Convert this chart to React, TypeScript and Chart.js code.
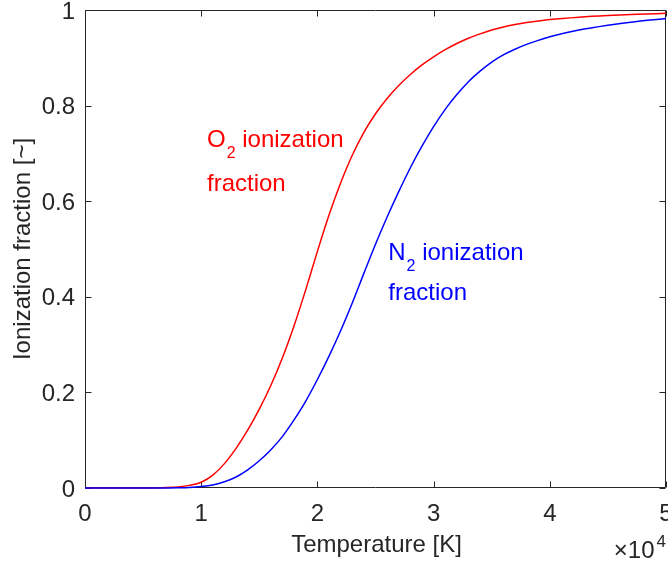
import React, { useEffect, useRef } from 'react';
import { Chart, registerables } from 'chart.js';

Chart.register(...registerables);

// Temperature samples [K]
const temperatureK = [
  0, 5000, 6000, 7000, 8000, 9000, 10000, 11000, 12000, 13000, 14000, 15000,
  16000, 17000, 18000, 19000, 20000, 21000, 22000, 23000, 24000, 25000, 26000,
  27000, 28000, 29000, 30000, 31000, 32000, 33000, 34000, 35000, 36000, 37000,
  38000, 39000, 40000, 42500, 45000, 47500, 50000,
];

// O2 ionization fraction (red)
const o2Fraction = [
  0, 0, 0.0002, 0.0008, 0.0022, 0.0055, 0.012, 0.027, 0.051, 0.083, 0.121,
  0.165, 0.215, 0.273, 0.34, 0.415, 0.495, 0.571, 0.638, 0.696, 0.744, 0.783,
  0.815, 0.842, 0.865, 0.885, 0.902, 0.917, 0.93, 0.941, 0.95, 0.958, 0.9645,
  0.9695, 0.9737, 0.977, 0.98, 0.985, 0.9885, 0.991, 0.993,
];

// N2 ionization fraction (blue)
const n2Fraction = [
  0, 0, 0, 0.0001, 0.0004, 0.0012, 0.003, 0.0065, 0.013, 0.023, 0.038, 0.057,
  0.08, 0.108, 0.143, 0.182, 0.227, 0.276, 0.329, 0.387, 0.449, 0.51, 0.567,
  0.62, 0.67, 0.715, 0.756, 0.792, 0.823, 0.85, 0.872, 0.891, 0.906, 0.918,
  0.928, 0.9365, 0.944, 0.958, 0.968, 0.976, 0.982,
];

const xTickValues = [0, 10000, 20000, 30000, 40000, 50000];
const xTickLabels = ['0', '1', '2', '3', '4', '5'];
const yTickValues = [0, 0.2, 0.4, 0.6, 0.8, 1];
const yTickLabels = ['0', '0.2', '0.4', '0.6', '0.8', '1'];

const xTitle = 'Temperature [K]';
const yTitle = 'Ionization fraction [~]';
const exponentBase = '×10';
const exponentPower = '4';

// Text annotations (anchor in data coordinates)
const annotations = [
  { x: 10500, y: 0.713, main: 'O', sub: '2', rest: ' ionization', color: '#ff0000' },
  { x: 10500, y: 0.621, main: 'fraction', sub: '', rest: '', color: '#ff0000' },
  { x: 26100, y: 0.476, main: 'N', sub: '2', rest: ' ionization', color: '#0000ff' },
  { x: 26100, y: 0.393, main: 'fraction', sub: '', rest: '', color: '#0000ff' },
];

const FONT = '"Liberation Sans", Arial, Helvetica, sans-serif';
const AXIS_COLOR = '#262626';
const TICK_FONT = 24;
const LABEL_FONT = 24;
const ANNOT_FONT = 24;
const SUB_FONT = 16;

const matlabAxes = {
  id: 'matlabAxes',
  beforeDatasetsDraw(chart: any) {
    const { ctx, chartArea: a, scales } = chart;
    const xs = scales.x;
    const ys = scales.y;
    ctx.save();
    ctx.strokeStyle = AXIS_COLOR;
    ctx.lineWidth = 1;
    ctx.beginPath();
    const L = Math.round(a.left) + 0.5;
    const R = Math.round(a.right) - 0.5;
    const T = Math.round(a.top) + 0.5;
    const B = Math.round(a.bottom) - 0.5;
    ctx.rect(L, T, R - L, B - T);
    xTickValues.forEach((v) => {
      const px = Math.round(xs.getPixelForValue(v)) + 0.5;
      ctx.moveTo(px, B);
      ctx.lineTo(px, B - 6);
      ctx.moveTo(px, T);
      ctx.lineTo(px, T + 6);
    });
    yTickValues.forEach((v) => {
      const py = Math.round(ys.getPixelForValue(v)) + 0.5;
      ctx.moveTo(L, py);
      ctx.lineTo(L + 6, py);
      ctx.moveTo(R, py);
      ctx.lineTo(R - 6, py);
    });
    ctx.stroke();

    ctx.fillStyle = AXIS_COLOR;
    ctx.font = `${TICK_FONT}px ${FONT}`;
    ctx.textAlign = 'center';
    ctx.textBaseline = 'alphabetic';
    xTickValues.forEach((v, i) => {
      ctx.fillText(xTickLabels[i], xs.getPixelForValue(v), a.bottom + 33);
    });
    ctx.textAlign = 'right';
    yTickValues.forEach((v, i) => {
      ctx.fillText(yTickLabels[i], a.left - 10, ys.getPixelForValue(v) + 8.5);
    });

    ctx.font = `${LABEL_FONT}px ${FONT}`;
    ctx.textAlign = 'center';
    ctx.fillText(xTitle, (a.left + a.right) / 2 + 1, a.bottom + 64);
    ctx.save();
    ctx.translate(30, (a.top + a.bottom) / 2);
    ctx.rotate(-Math.PI / 2);
    ctx.fillText(yTitle, 0, 0);
    ctx.restore();

    ctx.textAlign = 'right';
    ctx.font = `17px ${FONT}`;
    const pw = ctx.measureText(exponentPower).width;
    ctx.fillText(exponentPower, a.right, a.bottom + 59);
    ctx.font = `${TICK_FONT}px ${FONT}`;
    ctx.fillText(exponentBase, a.right - pw - 2, a.bottom + 70);

    ctx.restore();
  },
  afterDatasetsDraw(chart: any) {
    const { ctx, scales } = chart;
    const xs = scales.x;
    const ys = scales.y;
    ctx.save();
    ctx.textAlign = 'left';
    ctx.textBaseline = 'alphabetic';
    annotations.forEach((an) => {
      let px = xs.getPixelForValue(an.x);
      const py = ys.getPixelForValue(an.y);
      ctx.fillStyle = an.color;
      ctx.font = `${ANNOT_FONT}px ${FONT}`;
      ctx.fillText(an.main, px, py);
      px += ctx.measureText(an.main).width;
      if (an.sub) {
        ctx.font = `${SUB_FONT}px ${FONT}`;
        ctx.fillText(an.sub, px + 1, py + 11);
        px += ctx.measureText(an.sub).width + 1;
      }
      if (an.rest) {
        ctx.font = `${ANNOT_FONT}px ${FONT}`;
        ctx.fillText(an.rest, px, py);
      }
    });
    ctx.restore();
  },
};

export default function App() {
  const canvasRef = useRef<HTMLCanvasElement | null>(null);

  useEffect(() => {
    document.body.style.margin = '0';
    const canvas = canvasRef.current;
    if (!canvas) return;
    const chart = new Chart(canvas, {
      type: 'line',
      data: {
        datasets: [
          {
            label: 'N2',
            data: temperatureK.map((t, i) => ({ x: t, y: n2Fraction[i] })),
            borderColor: '#0000ff',
            borderWidth: 1.5,
            pointRadius: 0,
            cubicInterpolationMode: 'monotone',
            fill: false,
            clip: false,
          },
          {
            label: 'O2',
            data: temperatureK.map((t, i) => ({ x: t, y: o2Fraction[i] })),
            borderColor: '#ff0000',
            borderWidth: 1.5,
            pointRadius: 0,
            cubicInterpolationMode: 'monotone',
            fill: false,
            clip: false,
          },
        ],
      },
      options: {
        responsive: false,
        animation: false,
        devicePixelRatio: 1,
        layout: { padding: { left: 85, right: 2, top: 10, bottom: 75 } },
        plugins: { legend: { display: false }, tooltip: { enabled: false } },
        scales: {
          x: { type: 'linear', min: 0, max: 50000, display: false },
          y: { type: 'linear', min: 0, max: 1, display: false },
        },
      },
      plugins: [matlabAxes],
    } as any);
    return () => chart.destroy();
  }, []);

  return (
    <div style={{ position: 'fixed', left: 0, top: 0, width: 668, height: 563, background: '#fff' }}>
      <canvas ref={canvasRef} width={668} height={563} />
    </div>
  );
}
